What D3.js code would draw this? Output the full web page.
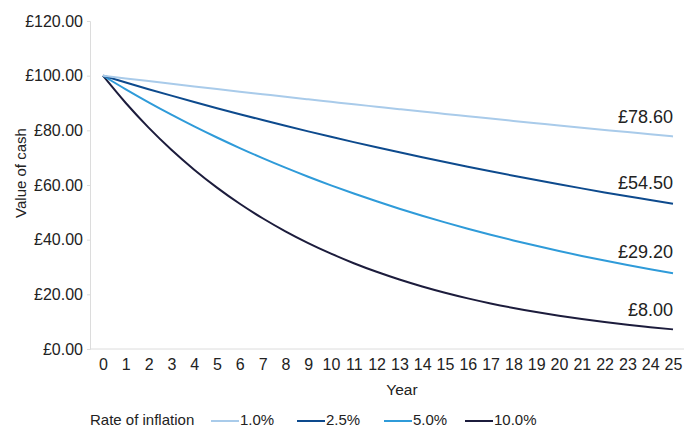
<!DOCTYPE html>
<html>
<head>
<meta charset="utf-8">
<script src="https://cdn.jsdelivr.net/npm/d3@7/dist/d3.min.js"></script>
<style>
  html, body { margin: 0; padding: 0; background: #fff; }
  svg { display: block; font-family: "Liberation Sans", Arial, Helvetica, sans-serif; }
</style>
</head>
<body>
<svg id="chart" width="684" height="428"></svg>
<script>
// Years on the x axis
const years = d3.range(0, 26);

// Value of £100 cash after each year, by rate of inflation
const rates = ["1.0%", "2.5%", "5.0%", "10.0%"];
const value1 = [100, 99.00, 98.01, 97.03, 96.06, 95.10, 94.15, 93.21, 92.27, 91.35, 90.44, 89.53, 88.64, 87.75, 86.87, 86.01, 85.15, 84.29, 83.45, 82.62, 81.79, 80.97, 80.16, 79.36, 78.60, 77.78];
const value25 = [100, 97.50, 95.06, 92.69, 90.37, 88.11, 85.91, 83.76, 81.67, 79.62, 77.63, 75.69, 73.80, 71.95, 70.16, 68.40, 66.69, 65.02, 63.40, 61.81, 60.27, 58.76, 57.29, 55.86, 54.50, 53.10];
const value5 = [100, 95.00, 90.25, 85.74, 81.45, 77.38, 73.51, 69.83, 66.34, 63.02, 59.87, 56.88, 54.04, 51.33, 48.77, 46.33, 44.01, 41.81, 39.72, 37.74, 35.85, 34.06, 32.35, 30.74, 29.20, 27.74];
const value10 = [100, 90.00, 81.00, 72.90, 65.61, 59.05, 53.14, 47.83, 43.05, 38.74, 34.87, 31.38, 28.24, 25.42, 22.88, 20.59, 18.53, 16.68, 15.01, 13.51, 12.16, 10.94, 9.85, 8.86, 8.00, 7.18];
const colours = ["#a9cbea", "#0d4a8d", "#2f9bd9", "#1c1c3c"];

// Value called out for each line, at year 24
const labelYear = 24;
const yTicks = [0, 20, 40, 60, 80, 100, 120];

const series = [value1, value25, value5, value10].map((vals, i) => ({
  rate: rates[i], colour: colours[i], values: vals
}));

const svg = d3.select("#chart");
const x = d3.scaleLinear().domain([0, 25]).range([103, 673]);
const y = d3.scaleLinear().domain([0, 120]).range([349, 21]);
const axisColour = "#dcdcdc";
const textColour = "#222";

// Y axis
const yAxis = svg.append("g")
  .attr("transform", "translate(90,0)")
  .call(d3.axisLeft(y).tickValues(yTicks).tickSize(3).tickPadding(4)
    .tickFormat(d => "£" + d3.format(".2f")(d)));
yAxis.selectAll("path, line").attr("stroke", axisColour);
yAxis.selectAll("text").attr("font-size", 16).attr("fill", textColour)
  .attr("font-family", "'Liberation Sans', Arial, sans-serif");

// X axis baseline and year labels
svg.append("line")
  .attr("x1", 90).attr("x2", 684)
  .attr("y1", y(0)).attr("y2", y(0))
  .attr("stroke", axisColour);
const xAxis = svg.append("g")
  .attr("transform", `translate(0,${y(0)})`)
  .call(d3.axisBottom(x).tickValues(years).tickSize(0).tickPadding(10).tickFormat(d3.format("d")));
xAxis.select(".domain").remove();
xAxis.selectAll("text").attr("font-size", 16).attr("fill", textColour)
  .attr("font-family", "'Liberation Sans', Arial, sans-serif");

// Axis titles
svg.append("text")
  .attr("x", 402).attr("y", 395)
  .attr("text-anchor", "middle")
  .attr("font-size", 15.5).attr("fill", textColour)
  .text("Year");
svg.append("text")
  .attr("transform", "translate(26,173) rotate(-90)")
  .attr("text-anchor", "middle")
  .attr("font-size", 15).attr("fill", textColour)
  .text("Value of cash");

// Lines
const line = d3.line()
  .x((d, i) => x(years[i]))
  .y(d => y(d))
  .curve(d3.curveMonotoneX);

svg.append("g").selectAll("path")
  .data(series.slice().reverse())
  .join("path")
  .attr("d", d => line(d.values))
  .attr("fill", "none")
  .attr("stroke", d => d.colour)
  .attr("stroke-width", 2);

// End-of-period value labels
svg.append("g").selectAll("text")
  .data(series)
  .join("text")
  .attr("x", 673)
  .attr("y", d => y(d.values[labelYear]) - 11)
  .attr("text-anchor", "end")
  .attr("font-size", 18).attr("fill", textColour)
  .text(d => "£" + d3.format(".2f")(d.values[labelYear]));

// Legend
const legend = svg.append("g");
legend.append("text")
  .attr("x", 90).attr("y", 425)
  .attr("font-size", 15).attr("fill", textColour)
  .text("Rate of inflation");
const legendX = [211, 297, 384, 465];
const items = legend.selectAll("g.item")
  .data(series)
  .join("g")
  .attr("class", "item")
  .attr("transform", (d, i) => `translate(${legendX[i]},0)`);
items.append("line")
  .attr("x1", 0).attr("x2", 28)
  .attr("y1", 421).attr("y2", 421)
  .attr("stroke", d => d.colour)
  .attr("stroke-width", 2);
items.append("text")
  .attr("x", 29).attr("y", 425)
  .attr("font-size", 15).attr("fill", textColour)
  .text(d => d.rate);
</script>
</body>
</html>
